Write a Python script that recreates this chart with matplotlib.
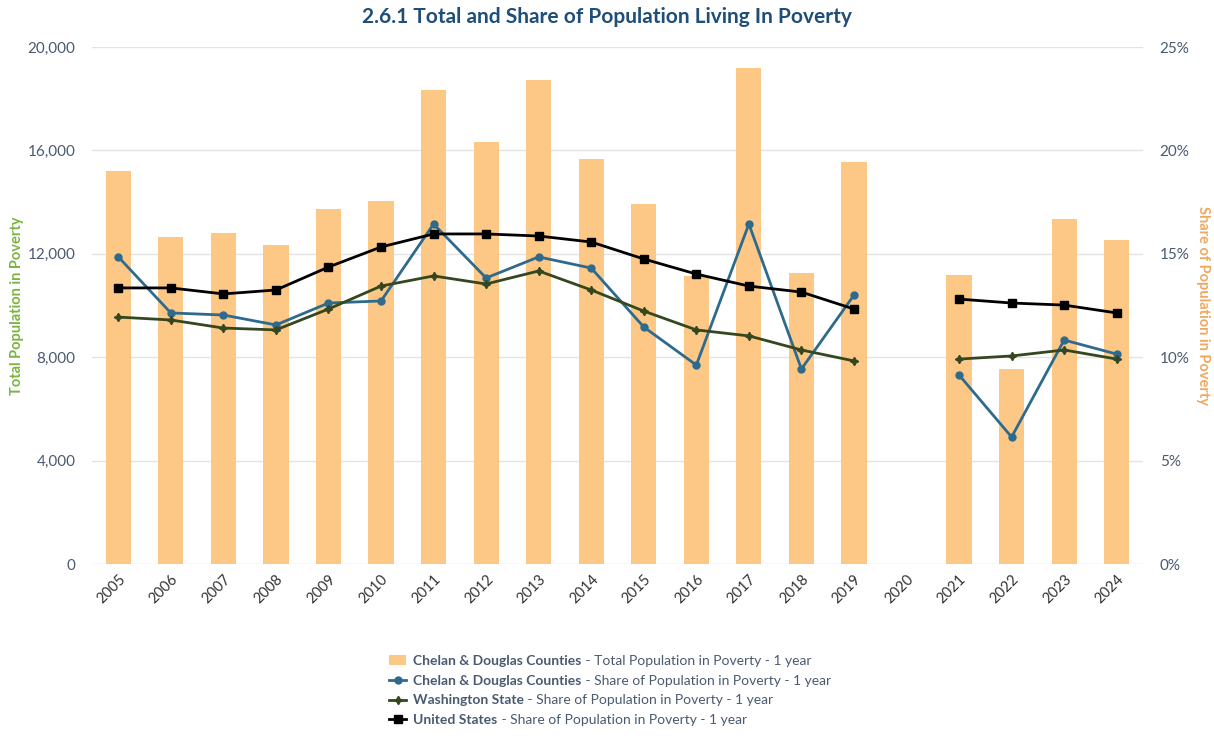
import matplotlib.pyplot as plt
import numpy as np
from matplotlib.lines import Line2D
from matplotlib.patches import Patch

plt.rcParams['font.family'] = ['Lato', 'DejaVu Sans']

# data
years = ['2005', '2006', '2007', '2008', '2009', '2010', '2011', '2012', '2013', '2014',
         '2015', '2016', '2017', '2018', '2019', '2020', '2021', '2022', '2023', '2024']
total_pov = [15200, 12650, 12800, 12340, 13730, 14040, 18340, 16320, 18720, 15670,
             13930, 11140, 19190, 11260, 15550, np.nan, 11180, 7540, 13350, 12530]
share_cd = [14.85, 12.14, 12.04, 11.56, 12.62, 12.72, 16.44, 13.83, 14.85, 14.31,
            11.46, 9.62, 16.44, 9.43, 13.0, np.nan, 9.14, 6.14, 10.83, 10.15]
share_wa = [11.94, 11.8, 11.41, 11.32, 12.33, 13.44, 13.93, 13.54, 14.17, 13.25,
            12.23, 11.32, 11.03, 10.35, 9.82, np.nan, 9.91, 10.06, 10.35, 9.91]
share_us = [13.35, 13.35, 13.06, 13.25, 14.36, 15.33, 15.96, 15.96, 15.86, 15.57,
            14.75, 14.02, 13.44, 13.15, 12.33, np.nan, 12.81, 12.62, 12.52, 12.14]

bar_col = '#fdc886'
blue = '#2e6a8e'
green = '#35471f'
tick_col = '#4a5a70'

fig = plt.figure(figsize=(12.14, 7.39), dpi=100)
ax = fig.add_axes([0.0758, 0.2368, 0.8657, 0.6996])
ax2 = ax.twinx()

x = np.arange(len(years))
ax.bar(x, total_pov, width=0.48, color=bar_col, zorder=2)
ax.set_ylim(0, 20000)
ax.set_yticks([0, 4000, 8000, 12000, 16000, 20000])
ax.set_yticklabels(['0', '4,000', '8,000', '12,000', '16,000', '20,000'])
ax.set_xlim(-0.5, len(years) - 0.5)
ax.set_xticks(x)
ax.set_xticklabels(years, rotation=45, ha='right', rotation_mode='anchor', color='#333333', fontsize=10.5)
ax.grid(axis='y', color='#e3e3e3', linewidth=1, zorder=0)
ax.set_axisbelow(True)
ax.tick_params(axis='y', length=0, labelcolor=tick_col, labelsize=11, pad=12)
ax.tick_params(axis='x', length=0, pad=6)
for s in ax.spines.values():
    s.set_visible(False)
for s in ax2.spines.values():
    s.set_visible(False)
ax.set_ylabel('Total Population in Poverty', color='#7cb342', fontsize=10.5, fontweight='bold')
ax.yaxis.set_label_coords(-0.065, 0.5)

ax2.plot(x, share_cd, color=blue, lw=2, marker='o', ms=5, zorder=3)
ax2.plot(x, share_wa, color=green, lw=2, marker=(4, 1, 0), ms=6, zorder=3)
ax2.plot(x, share_us, color='black', lw=2, marker='s', ms=6, zorder=4)
ax2.set_ylim(0, 25)
ax2.set_yticks([0, 5, 10, 15, 20, 25])
ax2.set_yticklabels(['0%', '5%', '10%', '15%', '20%', '25%'])
ax2.tick_params(axis='y', length=0, labelcolor=tick_col, labelsize=11, pad=12)
ax2.set_ylabel('Share of Population in Poverty', color='#f0a860', fontsize=10.5, fontweight='bold',
               rotation=270, va='center')
ax2.yaxis.set_label_coords(1.057, 0.5)

fig.text(0.5, 0.977, '2.6.1 Total and Share of Population Living In Poverty', ha='center', va='center',
         fontsize=15, fontweight='bold', color='#1f4e79')

# legend: bold series name + regular description
handles = [
    Patch(facecolor=bar_col, edgecolor='none'),
    Line2D([], [], color=blue, lw=2, marker='o', ms=5),
    Line2D([], [], color=green, lw=2, marker=(4, 1, 0), ms=6),
    Line2D([], [], color='black', lw=2, marker='s', ms=6),
]
names = ['Chelan & Douglas Counties', 'Chelan & Douglas Counties', 'Washington State', 'United States']
rest = [' - Total Population in Poverty - 1 year', ' - Share of Population in Poverty - 1 year',
        ' - Share of Population in Poverty - 1 year', ' - Share of Population in Poverty - 1 year']
leg = fig.legend(handles, names, loc='upper left', bbox_to_anchor=(0.316, 0.121), frameon=False,
                 fontsize=10, handlelength=1.2, handletextpad=0.55, labelspacing=0.55,
                 borderaxespad=0)
for t in leg.get_texts():
    t.set_fontweight('bold')
    t.set_color(tick_col)

fig.canvas.draw()
r = fig.canvas.get_renderer()
for t, extra in zip(leg.get_texts(), rest):
    bb = t.get_window_extent(r)
    fig.text(bb.x1 / fig.bbox.width, (bb.y0 + bb.y1) / 2 / fig.bbox.height, extra,
             ha='left', va='center', fontsize=10, color=tick_col)

fig.savefig('out.png', dpi=100)
